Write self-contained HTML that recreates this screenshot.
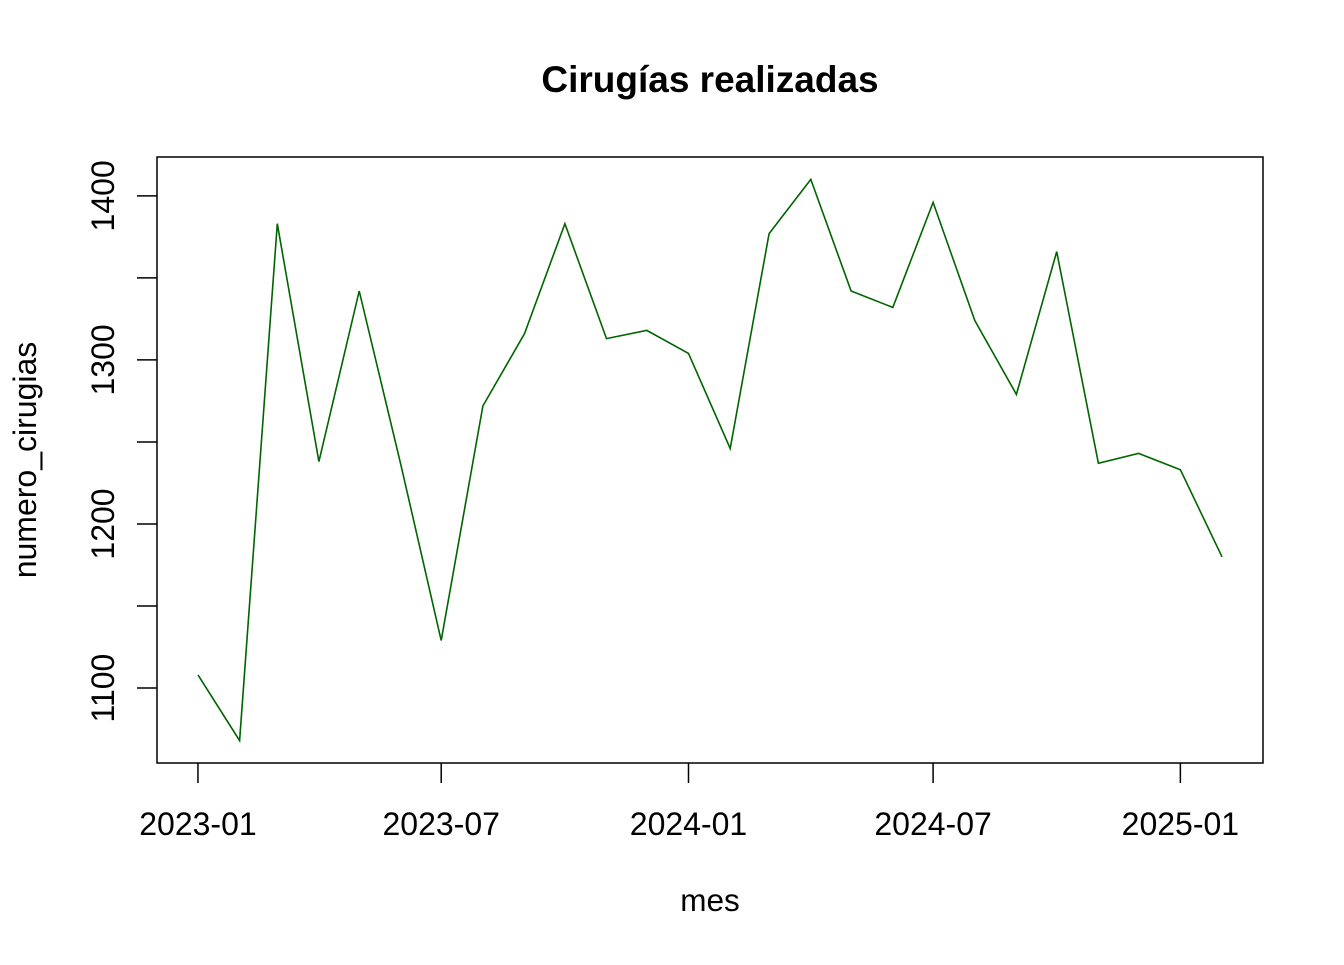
<!DOCTYPE html>
<html><head><meta charset="utf-8"><style>
html,body{margin:0;padding:0;background:#fff;}
svg text{font-family:"Liberation Sans",Arial,sans-serif;fill:#000;}
</style></head><body>
<svg id="chart" width="1344" height="960" xmlns="http://www.w3.org/2000/svg">
<text x="710" y="92" font-size="37" font-weight="bold" text-anchor="middle">Cirugías realizadas</text>
<rect x="157" y="157" width="1106" height="606" fill="none" stroke="#000" stroke-width="1.5"/>
<g id="xaxis"></g>
<g id="yaxis"></g>
<text x="710" y="911" font-size="31.5" text-anchor="middle">mes</text>
<text transform="translate(36,460) rotate(-90)" font-size="32" text-anchor="middle">numero_cirugias</text>
</svg>
<script>
const months = ["2023-01","2023-02","2023-03","2023-04","2023-05","2023-06","2023-07","2023-08","2023-09","2023-10","2023-11","2023-12","2024-01","2024-02","2024-03","2024-04","2024-05","2024-06","2024-07","2024-08","2024-09","2024-10","2024-11","2024-12","2025-01","2025-02"];
const values = [1108,1068,1383,1238,1342,1236,1129,1272,1316,1383,1313,1318,1304,1246,1377,1410,1342,1332,1396,1324,1279,1366,1237,1243,1233,1180];
const xTicks = ["2023-01","2023-07","2024-01","2024-07","2025-01"];
const yTicks = [1100,1200,1300,1400];

const NS="http://www.w3.org/2000/svg";
const svg=document.getElementById('chart');
const L=157,R=1263,T=157,B=763;
const toDay=s=>{const [y,m]=s.split('-').map(Number);return Date.UTC(y,m-1,1)/864e5;};
const days=months.map(toDay);
const dmin=Math.min(...days),dmax=Math.max(...days),dpad=(dmax-dmin)*0.04;
const vmin=Math.min(...values),vmax=Math.max(...values),vpad=(vmax-vmin)*0.04;
const xs=d=>L+(d-(dmin-dpad))/((dmax+dpad)-(dmin-dpad))*(R-L);
const ys=v=>B-(v-(vmin-vpad))/((vmax+vpad)-(vmin-vpad))*(B-T);
function mk(tag,attrs,parent){const e=document.createElementNS(NS,tag);for(const k in attrs)e.setAttribute(k,attrs[k]);(parent||svg).appendChild(e);return e;}
const xg=document.getElementById('xaxis'),yg=document.getElementById('yaxis');
xTicks.forEach(t=>{const x=xs(toDay(t));
 const tk=mk('line',{x1:x,x2:x,y1:B,y2:B+20,stroke:'#000','stroke-width':1.5},xg);
 
 
 const tx=mk('text',{x:x,y:835,'font-size':32,'text-anchor':'middle'},xg);tx.textContent=t;
 
 
});
const yAll=[];for(let v=yTicks[0];v<=vmax+vpad;v+=50)yAll.push(v);
yAll.forEach(v=>{const y=ys(v);
 const tk=mk('line',{x1:L-20,x2:L,y1:y,y2:y,stroke:'#000','stroke-width':1.5},yg);
 
 
});
yTicks.forEach(v=>{const y=ys(v);
 const tx=mk('text',{transform:`translate(114,${y}) rotate(-90)`,'font-size':32,'text-anchor':'middle'},yg);tx.textContent=v;
 
 
});
const pts=values.map((v,i)=>xs(days[i]).toFixed(1)+','+ys(v).toFixed(1)).join(' ');
const line=mk('polyline',{points:pts,fill:'none',stroke:'#006400','stroke-width':1.6,'stroke-linejoin':'miter'});


</script>
</body></html>
